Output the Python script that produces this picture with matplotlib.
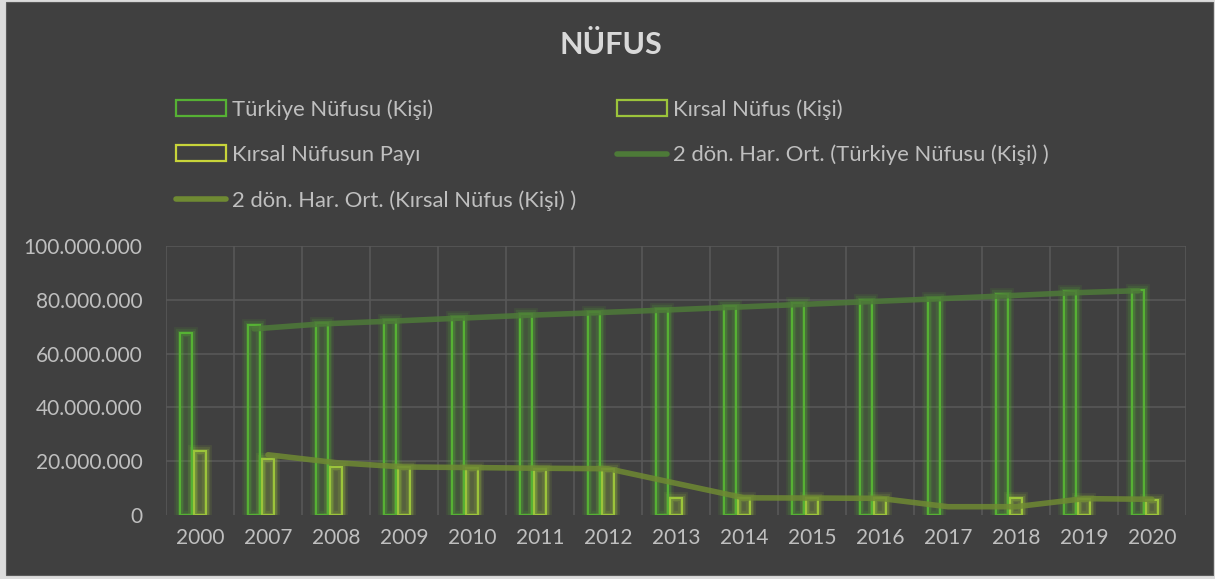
import numpy as np
import pandas as pd
import matplotlib
matplotlib.use("Agg")
import matplotlib.pyplot as plt
from matplotlib.patches import Rectangle

# ==== VERİ ====
yillar = ["2000", "2007", "2008", "2009", "2010", "2011", "2012", "2013",
          "2014", "2015", "2016", "2017", "2018", "2019", "2020"]
turkiye_nufusu = [67803927, 70586256, 71517100, 72561312, 73722988, 74724269,
                  75627384, 76667864, 77695904, 78741053, 79814871, 80810525,
                  82003882, 83154997, 83614362]
kirsal_nufus = [23797653, 20974712, 17947431, 17761738, 17524000, 17236000,
                17178953, 6377000, 6372000, 6235000, 6150000, 0,
                6175000, 5987000, 5693000]
kirsal_pay = [35.1, 29.7, 25.1, 24.5, 23.8, 23.2, 22.7, 8.3, 8.2, 7.9,
              7.7, 0.0, 7.5, 7.2, 6.8]

# ==== STİL ====
bg = "#404040"
txt = "#bfbfbf"
grid_c = "#595959"
c_tr = "#56b134"
c_kr = "#9cc43b"
c_pay = "#c8d43a"
c_ma_tr = "#4d7a38"
c_ma_kr = "#6f8a33"

plt.rcParams["font.family"] = ["Lato", "DejaVu Sans"]

fig = plt.figure(figsize=(12.15, 5.79), dpi=100)
fig.patch.set_facecolor("#dcdcdc")
fig.patches.append(Rectangle((6 / 1215, 4 / 579), 1207 / 1215, 573 / 579,
                             transform=fig.transFigure, facecolor=bg,
                             edgecolor="#5a5a5a", linewidth=0.8, zorder=-10))

ax = fig.add_axes([166 / 1215, 1 - 515 / 579, 1020 / 1215, 269 / 579])
ax.set_facecolor(bg)

x = np.arange(len(yillar))
w = 0.175
step = 0.205

# barras con valor 0 no se dibujan (como en Excel)
kr_bar = np.where(np.array(kirsal_nufus) == 0, np.nan, kirsal_nufus)


def barras(pos, vals, col, face_alpha, lw=1.5):
    # halo difuso alrededor de cada barra
    for glw, ga in [(8.5, 0.1), (6, 0.15), (3.5, 0.25)]:
        ax.bar(pos, vals, w, facecolor="none", edgecolor=col, linewidth=glw,
               alpha=ga, zorder=2)
    ax.bar(pos, vals, w, facecolor=(*matplotlib.colors.to_rgb(col), face_alpha),
           edgecolor=col, linewidth=lw, zorder=3)


barras(x - step, turkiye_nufusu, c_tr, 0.1)
barras(x, kr_bar, c_kr, 0.18)
# la participación (%) es demasiado pequeña para verse en esta escala
ax.bar(x + step, kirsal_pay, w, facecolor="none", edgecolor=c_pay, linewidth=0, zorder=3)

# 2 dönemlik hareketli ortalama
ma_tr = pd.Series(turkiye_nufusu).rolling(2).mean()
ma_kr = pd.Series(kirsal_nufus).rolling(2).mean()
ax.plot(x[1:] - step, ma_tr[1:], color=c_ma_tr, linewidth=4, alpha=0.85,
        solid_capstyle="round", zorder=4)
ax.plot(x[1:], ma_kr[1:], color=c_ma_kr, linewidth=4, alpha=0.85,
        solid_capstyle="round", zorder=4)

ax.set_xlim(-0.5, len(yillar) - 0.5)
ax.set_ylim(0, 100_000_000)
ax.set_yticks(np.arange(0, 100_000_001, 20_000_000))
ax.yaxis.set_major_formatter(lambda v, p: f"{int(v):,}".replace(",", "."))
ax.set_xticks(x)
ax.set_xticklabels(yillar)
ax.tick_params(axis="both", colors=txt, labelsize=15, length=0)
ax.tick_params(axis="y", pad=17)
ax.tick_params(axis="x", pad=9)

for v in np.arange(20_000_000, 100_000_001, 20_000_000):
    ax.axhline(v, color=grid_c, linewidth=1.1, zorder=1)
for k in np.arange(-0.5, len(yillar), 1.0):
    ax.axvline(k, color=grid_c, linewidth=1.1, zorder=1)
for s in ax.spines.values():
    s.set_visible(False)

fig.text(0.503, 1 - 45 / 579, "NÜFUS", ha="center", va="center",
         fontsize=22, fontweight="bold", color="#d9d9d9")

# ==== LEYENDA ====
h_tr = Rectangle((0, 0), 1, 1, facecolor="none", edgecolor=c_tr, linewidth=1.6)
h_kr = Rectangle((0, 0), 1, 1, facecolor="none", edgecolor=c_kr, linewidth=1.6)
h_pay = Rectangle((0, 0), 1, 1, facecolor="none", edgecolor=c_pay, linewidth=1.6)
h_ma_tr = plt.Line2D([], [], color=c_ma_tr, linewidth=4, solid_capstyle="round")
h_ma_kr = plt.Line2D([], [], color=c_ma_kr, linewidth=4, solid_capstyle="round")
handles = [h_tr, h_pay, h_ma_kr, h_kr, h_ma_tr]
labels = ["Türkiye Nüfusu (Kişi)", "Kırsal Nüfusun Payı",
          "2 dön. Har. Ort. (Kırsal Nüfus (Kişi) )",
          "Kırsal Nüfus (Kişi)", "2 dön. Har. Ort. (Türkiye Nüfusu (Kişi) )"]
fig.legend(handles=handles, labels=labels, ncol=2, loc="upper left",
           bbox_to_anchor=(176 / 1215, 1 - 99 / 579), frameon=False,
           fontsize=15.8, labelcolor=txt, handlelength=2.3, handleheight=0.7,
           handletextpad=0.25, labelspacing=1.15, columnspacing=1.85,
           borderaxespad=0, borderpad=0)

fig.savefig("out.png", dpi=100, facecolor=fig.get_facecolor())
print("Guardado: out.png")
